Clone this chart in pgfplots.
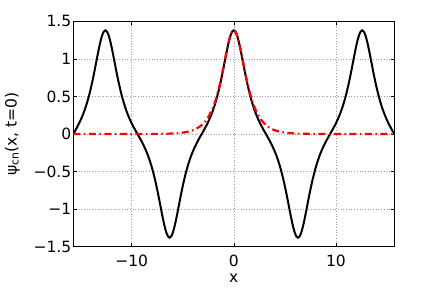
\documentclass[border=0pt]{standalone}
\usepackage{pgfplots}
\pgfplotsset{compat=1.18}
\usepackage{fontspec}
\setmainfont{DejaVu Sans}
\begin{document}
\begin{tikzpicture}
\path[use as bounding box] (-73.3bp,-41.3bp) rectangle (362.7bp,246.7bp);
\begin{axis}[
  at={(0,0)}, anchor=south west,
  scale only axis, width=321bp, height=225.4bp,
  xmin=-15.708, xmax=15.708, ymin=-1.5, ymax=1.5,
  xtick={-10,0,10}, xticklabels={−10,0,10},
  ytick={-1.5,-1,-0.5,0,0.5,1,1.5},
  yticklabels={−1.5,−1,−0.5,0,0.5,1,1.5},
  tick align=inside, major tick length=3.5bp,
  tick style={black, line width=0.6bp},
  axis line style={black, line width=1.2bp},
  grid=major,
  major grid style={gray!75, line width=0.6bp, dash pattern=on 0.7bp off 2bp},
  ticklabel style={font=\fontsize{15.5bp}{18bp}\selectfont},
  yticklabel style={xshift=1.5bp},
  xticklabel style={anchor=base, yshift=-19.3bp},
  label style={font=\fontsize{15.5bp}{18bp}\selectfont},
  xlabel={x}, ylabel={ψ\textsubscript{cn}(x, t=0)},
  xlabel style={at={(rel axis cs:0.5,0)}, anchor=base, yshift=-36bp},
  ylabel style={yshift=7bp},
  clip=true,
]
\addplot[black, line width=2bp, smooth] coordinates {
(-15.7080,0) (-15.5509,0.0376) (-15.3938,0.0761) (-15.2367,0.1164) (-15.0796,0.1594) (-14.9226,0.2061) (-14.7655,0.2573) (-14.6084,0.3143) (-14.4513,0.3778) (-14.2942,0.4488) (-14.1372,0.5281) (-13.9801,0.6160) (-13.8230,0.7124) (-13.6659,0.8163) (-13.5088,0.9254) (-13.3518,1.0359) (-13.1947,1.1423) (-13.0376,1.2376) (-12.8805,1.3136) (-12.7235,1.3629) (-12.5664,1.3800)
(-12.4093,1.3629) (-12.2522,1.3136) (-12.0951,1.2376) (-11.9381,1.1423) (-11.7810,1.0359) (-11.6239,0.9254) (-11.4668,0.8163) (-11.3097,0.7124) (-11.1527,0.6160) (-10.9956,0.5281) (-10.8385,0.4488) (-10.6814,0.3778) (-10.5243,0.3143) (-10.3673,0.2573) (-10.2102,0.2061) (-10.0531,0.1594) (-9.8960,0.1164) (-9.7389,0.0761) (-9.5819,0.0376) (-9.4248,0)
(-9.2677,-0.0376) (-9.1106,-0.0761) (-8.9535,-0.1164) (-8.7965,-0.1594) (-8.6394,-0.2061) (-8.4823,-0.2573) (-8.3252,-0.3143) (-8.1681,-0.3778) (-8.0111,-0.4488) (-7.8540,-0.5281) (-7.6969,-0.6160) (-7.5398,-0.7124) (-7.3827,-0.8163) (-7.2257,-0.9254) (-7.0686,-1.0359) (-6.9115,-1.1423) (-6.7544,-1.2376) (-6.5973,-1.3136) (-6.4403,-1.3629) (-6.2832,-1.3800)
(-6.1261,-1.3629) (-5.9690,-1.3136) (-5.8119,-1.2376) (-5.6549,-1.1423) (-5.4978,-1.0359) (-5.3407,-0.9254) (-5.1836,-0.8163) (-5.0265,-0.7124) (-4.8695,-0.6160) (-4.7124,-0.5281) (-4.5553,-0.4488) (-4.3982,-0.3778) (-4.2412,-0.3143) (-4.0841,-0.2573) (-3.9270,-0.2061) (-3.7699,-0.1594) (-3.6128,-0.1164) (-3.4558,-0.0761) (-3.2987,-0.0376) (-3.1416,0)
(-2.9845,0.0376) (-2.8274,0.0761) (-2.6704,0.1164) (-2.5133,0.1594) (-2.3562,0.2061) (-2.1991,0.2573) (-2.0420,0.3143) (-1.8850,0.3778) (-1.7279,0.4488) (-1.5708,0.5281) (-1.4137,0.6160) (-1.2566,0.7124) (-1.0996,0.8163) (-0.9425,0.9254) (-0.7854,1.0359) (-0.6283,1.1423) (-0.4712,1.2376) (-0.3142,1.3136) (-0.1571,1.3629)
(0,1.3800)
(0.1571,1.3629) (0.3142,1.3136) (0.4712,1.2376) (0.6283,1.1423) (0.7854,1.0359) (0.9425,0.9254) (1.0996,0.8163) (1.2566,0.7124) (1.4137,0.6160) (1.5708,0.5281) (1.7279,0.4488) (1.8850,0.3778) (2.0420,0.3143) (2.1991,0.2573) (2.3562,0.2061) (2.5133,0.1594) (2.6704,0.1164) (2.8274,0.0761) (2.9845,0.0376) (3.1416,0)
(3.2987,-0.0376) (3.4558,-0.0761) (3.6128,-0.1164) (3.7699,-0.1594) (3.9270,-0.2061) (4.0841,-0.2573) (4.2412,-0.3143) (4.3982,-0.3778) (4.5553,-0.4488) (4.7124,-0.5281) (4.8695,-0.6160) (5.0265,-0.7124) (5.1836,-0.8163) (5.3407,-0.9254) (5.4978,-1.0359) (5.6549,-1.1423) (5.8119,-1.2376) (5.9690,-1.3136) (6.1261,-1.3629) (6.2832,-1.3800)
(6.4403,-1.3629) (6.5973,-1.3136) (6.7544,-1.2376) (6.9115,-1.1423) (7.0686,-1.0359) (7.2257,-0.9254) (7.3827,-0.8163) (7.5398,-0.7124) (7.6969,-0.6160) (7.8540,-0.5281) (8.0111,-0.4488) (8.1681,-0.3778) (8.3252,-0.3143) (8.4823,-0.2573) (8.6394,-0.2061) (8.7965,-0.1594) (8.9535,-0.1164) (9.1106,-0.0761) (9.2677,-0.0376) (9.4248,0)
(9.5819,0.0376) (9.7389,0.0761) (9.8960,0.1164) (10.0531,0.1594) (10.2102,0.2061) (10.3673,0.2573) (10.5243,0.3143) (10.6814,0.3778) (10.8385,0.4488) (10.9956,0.5281) (11.1527,0.6160) (11.3097,0.7124) (11.4668,0.8163) (11.6239,0.9254) (11.7810,1.0359) (11.9381,1.1423) (12.0951,1.2376) (12.2522,1.3136) (12.4093,1.3629) (12.5664,1.3800)
(12.7235,1.3629) (12.8805,1.3136) (13.0376,1.2376) (13.1947,1.1423) (13.3518,1.0359) (13.5088,0.9254) (13.6659,0.8163) (13.8230,0.7124) (13.9801,0.6160) (14.1372,0.5281) (14.2942,0.4488) (14.4513,0.3778) (14.6084,0.3143) (14.7655,0.2573) (14.9226,0.2061) (15.0796,0.1594) (15.2367,0.1164) (15.3938,0.0761) (15.5509,0.0376) (15.7080,0)
};
\addplot[red, line width=2.2bp, smooth, dash pattern=on 7bp off 3.5bp on 1.5bp off 3.5bp] coordinates {
(-15.7080,0) (-14.1372,0) (-12.5664,0) (-10.9956,0.0001) (-9.4248,0.0002) (-7.8540,0.0011) (-7.0686,0.0023) (-6.2832,0.0052) (-5.9690,0.0071) (-5.6549,0.0097) (-5.3407,0.0132) (-5.0265,0.0181) (-4.7124,0.0248) (-4.5553,0.0290) (-4.3982,0.0339) (-4.2412,0.0397) (-4.0841,0.0465) (-3.9270,0.0544) (-3.7699,0.0636) (-3.6128,0.0744) (-3.4558,0.0870) (-3.2987,0.1018) (-3.1416,0.1190) (-2.9845,0.1392) (-2.8274,0.1627) (-2.6704,0.1902) (-2.5133,0.2221) (-2.3562,0.2593) (-2.1991,0.3024) (-2.0420,0.3522) (-1.8850,0.4096) (-1.7279,0.4753) (-1.5708,0.5500) (-1.4137,0.6338) (-1.2566,0.7267) (-1.0996,0.8274) (-0.9425,0.9337) (-0.7854,1.0418) (-0.6283,1.1462) (-0.4712,1.2398) (-0.3142,1.3146) (-0.1571,1.3631)
(0,1.3800)
(0.1571,1.3631) (0.3142,1.3146) (0.4712,1.2398) (0.6283,1.1462) (0.7854,1.0418) (0.9425,0.9337) (1.0996,0.8274) (1.2566,0.7267) (1.4137,0.6338) (1.5708,0.5500) (1.7279,0.4753) (1.8850,0.4096) (2.0420,0.3522) (2.1991,0.3024) (2.3562,0.2593) (2.5133,0.2221) (2.6704,0.1902) (2.8274,0.1627) (2.9845,0.1392) (3.1416,0.1190) (3.2987,0.1018) (3.4558,0.0870) (3.6128,0.0744) (3.7699,0.0636) (3.9270,0.0544) (4.0841,0.0465) (4.2412,0.0397) (4.3982,0.0339) (4.5553,0.0290) (4.7124,0.0248) (5.0265,0.0181) (5.3407,0.0132) (5.6549,0.0097) (5.9690,0.0071) (6.2832,0.0052) (7.0686,0.0023) (7.8540,0.0011) (9.4248,0.0002) (10.9956,0.0001) (12.5664,0) (14.1372,0) (15.7080,0)
};
\node[anchor=west, inner sep=0pt, font=\fontsize{15.5bp}{18bp}\selectfont] at (rel axis cs:1,1) [xshift=6bp, yshift=-15bp] {(b)};
\end{axis}
\end{tikzpicture}
\end{document}
